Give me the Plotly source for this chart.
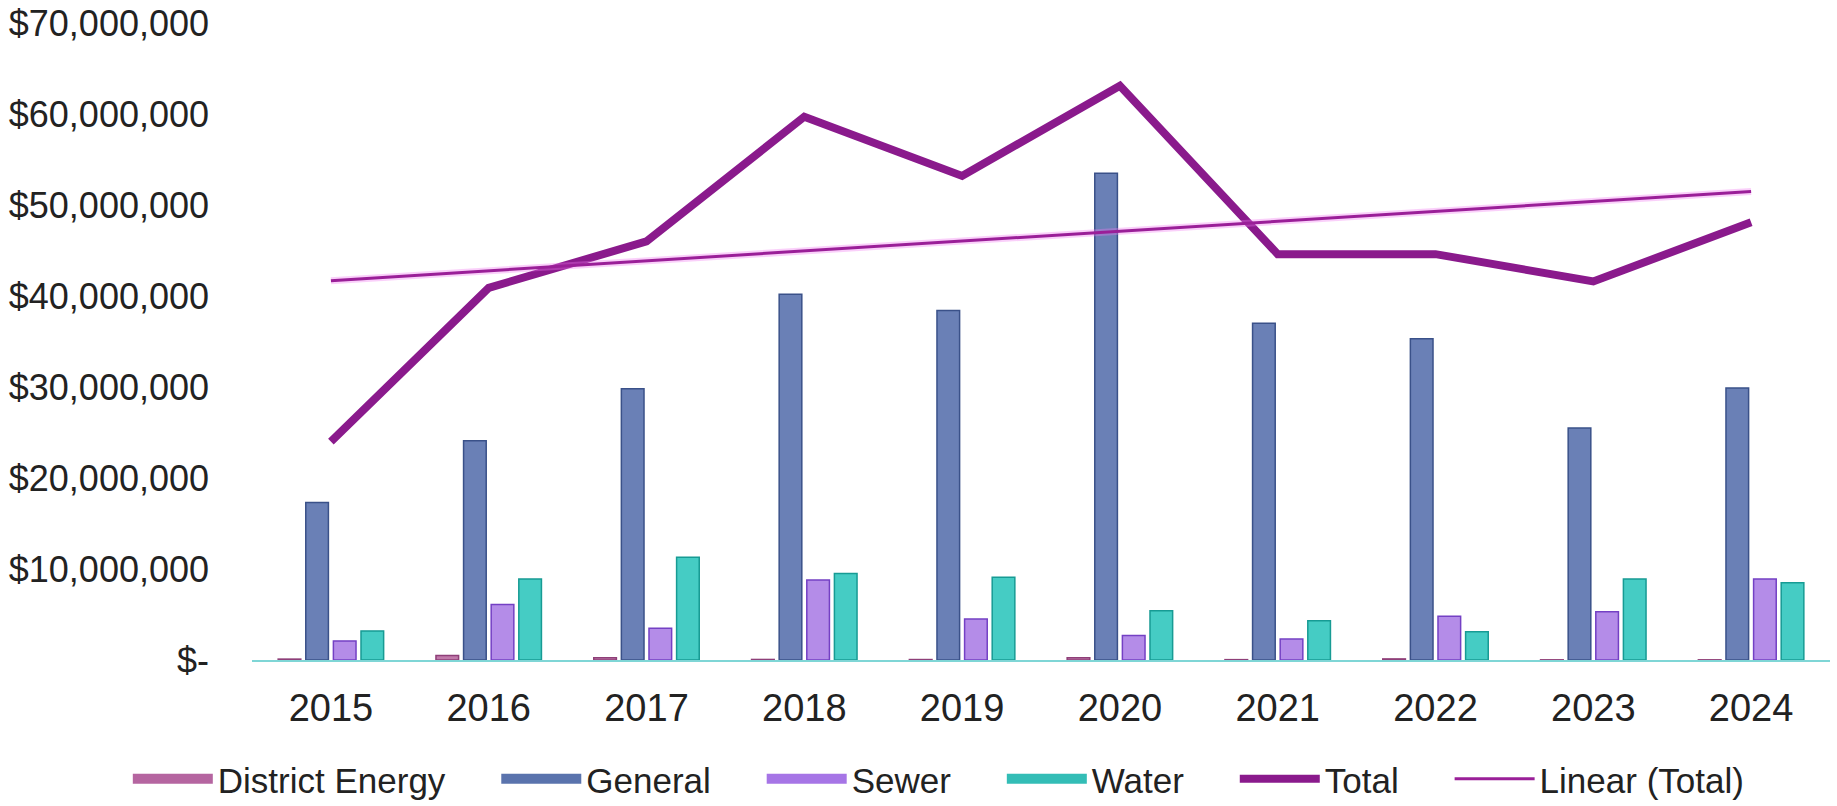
import numpy as np
import plotly.graph_objects as go

years = ["2015", "2016", "2017", "2018", "2019", "2020", "2021", "2022", "2023", "2024"]
district_energy = [100000, 500000, 250000, 60000, 50000, 250000, 40000, 120000, 20000, 20000]
general = [17300000, 24100000, 29800000, 40200000, 38400000, 53500000, 37000000, 35300000, 25500000, 29900000]
sewer = [2100000, 6100000, 3500000, 8800000, 4500000, 2700000, 2300000, 4800000, 5300000, 8900000]
water = [3200000, 8900000, 11300000, 9500000, 9100000, 5400000, 4300000, 3100000, 8900000, 8500000]
total = [24000000, 40900000, 46000000, 59700000, 53200000, 63100000, 44600000, 44600000, 41600000, 48100000]
y_tick_values = [0, 10000000, 20000000, 30000000, 40000000, 50000000, 60000000, 70000000]
y_tick_labels = ["$-", "$10,000,000", "$20,000,000", "$30,000,000", "$40,000,000",
                 "$50,000,000", "$60,000,000", "$70,000,000"]

# Linear trendline of the Total series (as in the original "Linear (Total)")
xi = np.arange(len(total))
slope, intercept = np.polyfit(xi, np.array(total, dtype=float), 1)
trend = list(slope * xi + intercept)

FONT = "Liberation Sans, Arial, sans-serif"
PAD = "\u00a0" * 4 + "\u2009"  # spacing between legend entries

fig = go.Figure()

bar_specs = [
    ("District Energy", district_energy, "#c07aaa", "#8e3f78", "#b565a0"),
    ("General", general, "#6a80b6", "#3a5189", "#5a73ad"),
    ("Sewer", sewer, "#b48ce8", "#7440c4", "#a675e6"),
    ("Water", water, "#45ccc4", "#179b94", "#33bdb6"),
]
for name, vals, fill, edge, legc in bar_specs:
    fig.add_trace(go.Bar(
        x=years, y=vals, name=name, showlegend=False,
        marker=dict(color=fill, line=dict(color=edge, width=1.5)),
    ))
for name, vals, fill, edge, legc in bar_specs:
    # legend swatch drawn as a wide bar-like rectangle
    fig.add_trace(go.Scatter(
        x=[None], y=[None], name=name + PAD, mode="lines",
        line=dict(color=legc, width=16), hoverinfo="skip",
    ))

fig.add_trace(go.Scatter(
    x=years, y=total, name="Total" + PAD, mode="lines",
    line=dict(color="#8a1a8c", width=8),
))
fig.add_trace(go.Scatter(
    x=years, y=trend, name="Linear (Total)", mode="lines", showlegend=False,
    line=dict(color="rgba(240,120,240,0.35)", width=7), hoverinfo="skip",
))
fig.add_trace(go.Scatter(
    x=years, y=trend, name="Linear (Total)", mode="lines",
    line=dict(color="#9a1f98", width=3),
))

fig.update_layout(
    width=1837, height=806,
    margin=dict(l=252, r=7, t=23, b=146, autoexpand=False),
    paper_bgcolor="white", plot_bgcolor="white",
    barmode="group", bargap=0.30, bargroupgap=0.18,
    font=dict(family=FONT, size=35, color="#222222"),
    legend=dict(
        orientation="h", xref="paper", x=-0.0787, xanchor="left",
        yref="paper", y=-0.187, yanchor="middle",
        font=dict(family=FONT, size=35, color="#222222"),
        itemwidth=80, traceorder="normal",
    ),
    showlegend=True,
)
fig.update_xaxes(
    type="category", range=[-0.5, 9.5],
    showline=True, linecolor="#7fd6d6", linewidth=2,
    showgrid=False, ticks="", ticklabelstandoff=13,
    tickfont=dict(family=FONT, size=38, color="#222222"),
)
fig.update_yaxes(
    range=[0, 70000000], tickvals=y_tick_values, ticktext=y_tick_labels,
    showgrid=False, zeroline=False, showline=False, ticks="",
    ticklabelstandoff=42,
    tickfont=dict(family=FONT, size=36, color="#222222"),
)

fig.write_html("out.html")
